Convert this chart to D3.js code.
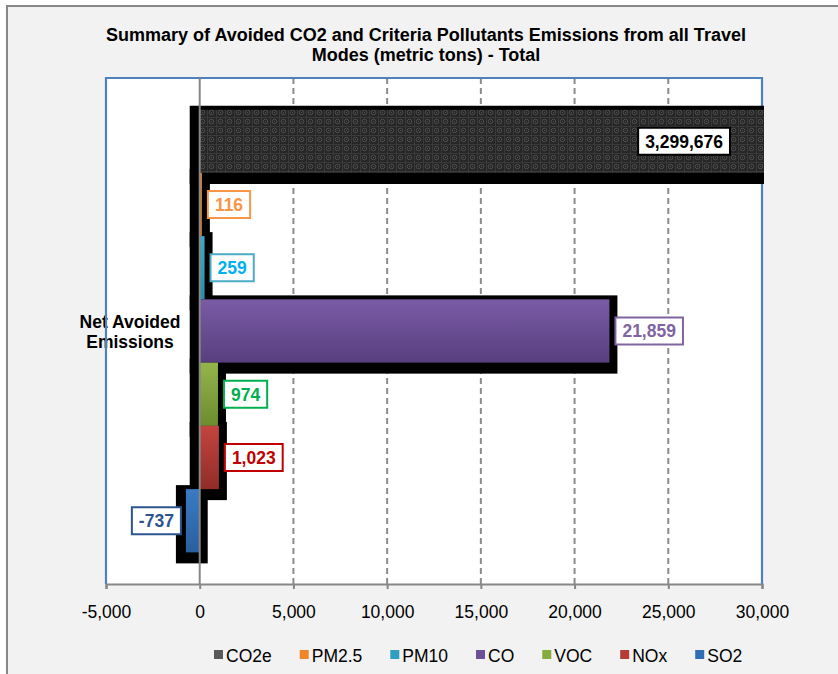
<!DOCTYPE html>
<html>
<head>
<meta charset="utf-8">
<script src="https://cdn.jsdelivr.net/npm/d3@7"></script>
<style>
  html, body { margin: 0; padding: 0; background: #ffffff; }
  svg { display: block; font-family: "Liberation Sans", Arial, sans-serif; }
</style>
</head>
<body>
<svg id="chart" width="838" height="674"></svg>
<script>
// ---- Data ----
const titleLines = ["Summary of Avoided CO2 and Criteria Pollutants Emissions from all Travel", "Modes (metric tons) - Total"];
const categoryLines = ["Net Avoided", "Emissions"];
const series = ["CO2e", "PM2.5", "PM10", "CO", "VOC", "NOx", "SO2"];
const values = [3299676, 116, 259, 21859, 974, 1023, -737];
const xTicks = [-5000, 0, 5000, 10000, 15000, 20000, 25000, 30000];
const xDomain = [-5000, 30000];

// ---- Styles ----
const barTop = ["#2a2a2a", "#f08a30", "#3aa8c8", "#7a5ca6", "#93b54a", "#c4443f", "#3a7bc4"];
const barBottom = ["#2a2a2a", "#d9731c", "#2b8eae", "#583e7e", "#6c8c2e", "#902d29", "#2a5f9f"];
const legendColors = ["#595959", "#f0862a", "#2e9fc0", "#6f4f9a", "#86ac3c", "#b63b37", "#2f6db5"];
const labelText = ["#000000", "#f79646", "#00b0f0", "#8064a2", "#00b050", "#c00000", "#2c5590"];
const labelBorder = ["#000000", "#f79646", "#4bacc6", "#8064a2", "#00b050", "#c00000", "#2c5590"];

const locale = d3.formatLocale({decimal: ".", thousands: ",", grouping: [3], currency: ["$", ""], minus: "-"});
const fmt = locale.format(",");

const svg = d3.select("#chart");
const W = 838, H = 674;
const plot = {left: 106, right: 762, top: 78, bottom: 584};

// chart frame
svg.append("rect").attr("x", 7).attr("y", 6).attr("width", W).attr("height", H)
  .attr("fill", "#f2f2f2").attr("stroke", "#878787").attr("stroke-width", 2);

// title
const title = svg.append("text").attr("text-anchor", "middle").attr("font-weight", "bold")
  .attr("font-size", 18).attr("fill", "#000");
titleLines.forEach((t, i) => {
  title.append("tspan").attr("x", 426).attr("y", 41 + i * 20).text(t);
});

const x = d3.scaleLinear().domain(xDomain).range([plot.left, plot.right]);
const y = d3.scaleBand().domain(series).range([plot.top, plot.bottom]).paddingOuter(0.5).paddingInner(0);

// plot area
svg.append("rect").attr("x", plot.left).attr("y", plot.top)
  .attr("width", plot.right - plot.left).attr("height", plot.bottom - plot.top).attr("fill", "#ffffff");

// gridlines
svg.append("g").selectAll("line")
  .data(xTicks.filter(t => t !== 0 && t !== xDomain[0] && t !== xDomain[1]))
  .join("line")
  .attr("x1", d => x(d)).attr("x2", d => x(d))
  .attr("y1", plot.top).attr("y2", plot.bottom)
  .attr("stroke", "#8c8c8c").attr("stroke-width", 2).attr("stroke-dasharray", "6,4");

// defs: pattern + gradients + clip
const defs = svg.append("defs");
const pat = defs.append("pattern").attr("id", "co2pat").attr("patternUnits", "userSpaceOnUse")
  .attr("width", 9).attr("height", 9);
pat.append("rect").attr("width", 9).attr("height", 9).attr("fill", "#262626");
pat.append("circle").attr("cx", 4.5).attr("cy", 4.5).attr("r", 2.3).attr("fill", "none")
  .attr("stroke", "#4d4d4d").attr("stroke-width", 1);
pat.append("path").attr("d", "M0,0.5H9M0.5,0V9").attr("stroke", "#3a3a3a").attr("stroke-width", 1);
pat.append("rect").attr("x", 4).attr("y", 4).attr("width", 1).attr("height", 1).attr("fill", "#555");

series.forEach((s, i) => {
  const g = defs.append("linearGradient").attr("id", "grad" + i)
    .attr("x1", 0).attr("y1", 0).attr("x2", 0).attr("y2", 1);
  g.append("stop").attr("offset", "0%").attr("stop-color", barTop[i]);
  g.append("stop").attr("offset", "100%").attr("stop-color", barBottom[i]);
});
defs.append("clipPath").attr("id", "plotclip").append("rect")
  .attr("x", plot.left).attr("y", plot.top - 2).attr("width", plot.right - plot.left + 2)
  .attr("height", plot.bottom - plot.top + 2);

const data = series.map((s, i) => ({s, v: values[i], i}));

// category label
const cat = svg.append("text").attr("text-anchor", "middle").attr("font-weight", "bold")
  .attr("font-size", 17.5).attr("fill", "#000");
categoryLines.forEach((t, i) => {
  cat.append("tspan").attr("x", 130).attr("y", 328 + i * 20).text(t);
});

// plot border (left, top, right)
svg.append("path")
  .attr("d", `M${plot.left},${plot.bottom}V${plot.top}H${plot.right}V${plot.bottom}`)
  .attr("fill", "none").attr("stroke", "#4f81bd").attr("stroke-width", 2.2);

const bars = svg.append("g").attr("clip-path", "url(#plotclip)");
// black glow behind bars
bars.selectAll("rect.glow").data(data).join("rect").attr("class", "glow")
  .attr("x", d => Math.min(x(0), x(d.v)) - 10)
  .attr("y", d => y(d.s) - 4)
  .attr("width", d => Math.abs(x(d.v) - x(0)) + 18)
  .attr("height", y.bandwidth() + 15)
  .attr("fill", "#000");

// bar fills
bars.selectAll("rect.bar").data(data).join("rect").attr("class", "bar")
  .attr("x", d => Math.min(x(0), x(d.v)))
  .attr("y", d => y(d.s))
  .attr("width", d => Math.max(1.5, Math.abs(x(d.v) - x(0))))
  .attr("height", y.bandwidth())
  .attr("fill", d => d.i === 0 ? "url(#co2pat)" : `url(#grad${d.i})`);

// zero line
svg.append("line").attr("x1", x(0)).attr("x2", x(0)).attr("y1", plot.top).attr("y2", plot.bottom)
  .attr("stroke", "#878787").attr("stroke-width", 2);

// x axis
const axis = svg.append("g").attr("transform", `translate(0,${plot.bottom})`)
  .call(d3.axisBottom(x).tickValues(xTicks).tickFormat(fmt).tickSize(5).tickPadding(17));
axis.select(".domain").attr("stroke", "#878787").attr("stroke-width", 2.2);
axis.selectAll(".tick line").attr("stroke", "#878787").attr("stroke-width", 2);
axis.selectAll(".tick text").attr("font-size", 17.5).attr("fill", "#000")
  .attr("font-family", '"Liberation Sans", Arial, sans-serif');

// data labels
const labels = svg.append("g");
data.forEach(d => {
  const g = labels.append("g");
  const t = g.append("text").attr("font-weight", "bold").attr("font-size", 17.5)
    .attr("fill", labelText[d.i]).text(fmt(d.v));
  const tw = t.node().getComputedTextLength();
  const bw = tw + 14, bh = 27;
  let left;
  const end = x(d.v);
  if (end > plot.right) left = plot.right - 32 - bw;
  else if (d.v >= 0) left = end + 6;
  else left = end - 5 - bw;
  const cy = y(d.s) + y.bandwidth() / 2;
  g.insert("rect", "text").attr("x", left).attr("y", cy - bh / 2).attr("width", bw).attr("height", bh)
    .attr("fill", "#fff").attr("stroke", labelBorder[d.i]).attr("stroke-width", 2);
  t.attr("x", left + 7).attr("y", cy + 6.3);
});

// legend
const legend = svg.append("g");
let lx = 214;
series.forEach((s, i) => {
  legend.append("rect").attr("x", lx).attr("y", 650).attr("width", 9).attr("height", 9)
    .attr("fill", legendColors[i]);
  const t = legend.append("text").attr("x", lx + 12).attr("y", 662).attr("font-size", 17.5)
    .attr("fill", "#000").text(s);
  lx = lx + 12 + t.node().getComputedTextLength() + 28;
});
</script>
</body>
</html>
